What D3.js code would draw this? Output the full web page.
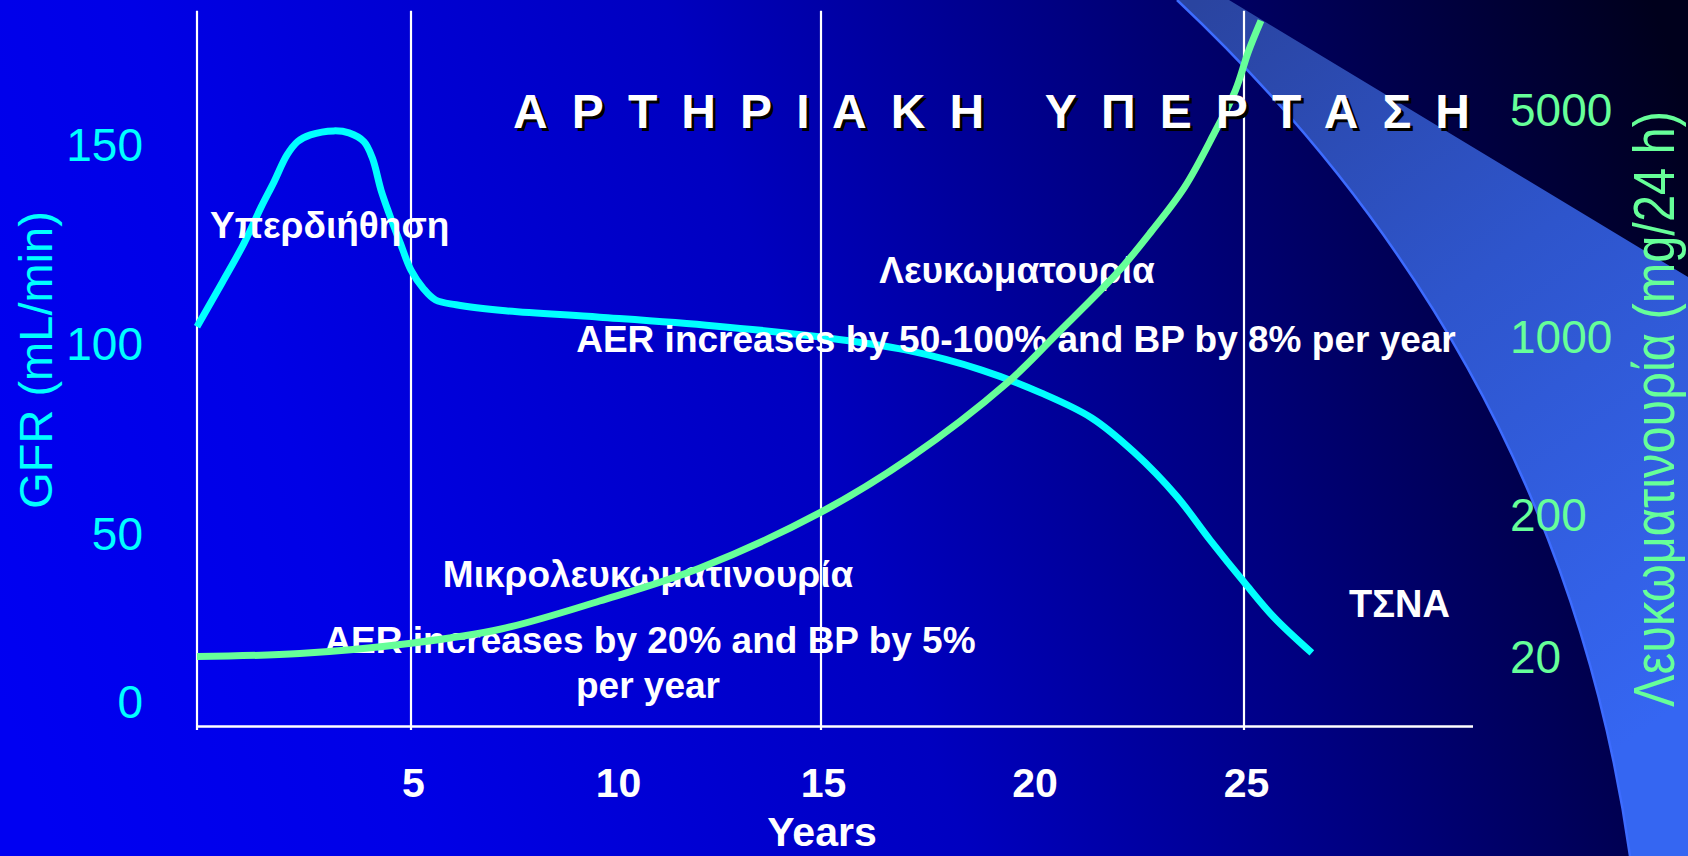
<!DOCTYPE html>
<html>
<head>
<meta charset="utf-8">
<script src="https://cdn.jsdelivr.net/npm/d3@7"></script>
<style>
  html, body { margin: 0; padding: 0; background: #000; overflow: hidden; }
  svg { display: block; }
</style>
</head>
<body>
<svg id="chart" width="1688" height="856"></svg>
<script>
// GFR (mL/min) over the years of diabetic nephropathy
const gfrYears  = [0, 0.6, 1.1, 1.5, 1.8, 2.1, 2.35, 2.65, 3.2, 3.55, 3.9, 4.1, 4.3, 4.5, 4.75, 5.0, 5.3, 5.6, 6.1, 7.3, 9.6, 12.4, 15.0, 17.0, 18.8, 20.2, 21.4, 22.4, 23.4, 24.2, 25.0, 25.7, 26.6];
const gfrValues = [104.6, 115.9, 125.6, 134.7, 141.0, 147.7, 151.1, 152.8, 153.8, 153.3, 151.1, 146.9, 138.9, 132.7, 125.6, 118.8, 114.2, 111.3, 110.1, 108.6, 107.0, 104.8, 102.0, 98.7, 93.4, 87.4, 80.8, 71.8, 60.3, 48.5, 36.0, 25.6, 14.9];

// Albumin excretion (mg/24 h), log axis
const aerYears  = [0, 2.4, 5.0, 7.2, 9.6, 12.05, 15.0, 17.1, 19.4, 20.6, 22.0, 22.8, 23.6, 24.3, 24.8, 25.1, 25.4];
const aerValues = [20.5, 21.5, 25.4, 32.0, 50.4, 86.1, 207, 338, 666, 1036, 1586, 2120, 2920, 4280, 5800, 7600, 9490];

// axis ticks
const yearTicks = [5, 10, 15, 20, 25];
const gridYears = [0, 5, 15, 25];
const gfrTicks  = [0, 50, 100, 150];
const aerTicks  = [20, 200, 1000, 5000];

const W = 1688, H = 856;
const FONT = "'Liberation Sans', Arial, Helvetica, sans-serif";
const CYAN = "#00ffff", GREEN = "#66ff99";

const svg = d3.select("#chart");
const defs = svg.append("defs");

// ---------- scales (hand-drawn slide axes: piecewise through tick positions) ----------
const x  = d3.scaleLinear().domain([0, 5, 15, 25, 30.4]).range([197, 411, 821, 1244, 1473]);
const yL = d3.scaleLinear().domain(gfrTicks).range([703, 535, 345, 146]);
const yR = d3.scaleLog().domain(aerTicks).range([658, 516, 338, 111]);

const axisY = 726.5, topY = 10.7;

// ---------- background ----------
const bg = defs.append("linearGradient").attr("id", "bg")
  .attr("gradientUnits", "userSpaceOnUse")
  .attr("x1", 0).attr("y1", 700).attr("x2", W).attr("y2", 100);
[[0, "#0000f2"], [0.2, "#0000e6"], [0.48, "#0000c0"], [0.69, "#000080"], [0.86, "#000048"], [1, "#00001c"]]
  .forEach(([o, c]) => bg.append("stop").attr("offset", o).attr("stop-color", c));
svg.append("rect").attr("width", W).attr("height", H).attr("fill", "url(#bg)");

// decorative swoosh on the right
const sw = defs.append("linearGradient").attr("id", "swoosh")
  .attr("gradientUnits", "userSpaceOnUse")
  .attr("x1", 1200).attr("y1", 0).attr("x2", 1688).attr("y2", 700);
[[0, "#2a44a0"], [0.45, "#2e55cc"], [1, "#3566f2"]]
  .forEach(([o, c]) => sw.append("stop").attr("offset", o).attr("stop-color", c));

const band = d3.path();
band.moveTo(1177, 0);
band.quadraticCurveTo(1560, 360, 1630, H);
band.lineTo(W, H);
band.lineTo(W, 277);
band.lineTo(1229, 0);
band.closePath();
svg.append("path").attr("d", band.toString()).attr("fill", "url(#swoosh)");

const edge = d3.path();
edge.moveTo(1177, 0);
edge.quadraticCurveTo(1560, 360, 1630, H);
svg.append("path").attr("d", edge.toString()).attr("fill", "none")
  .attr("stroke", "#3d6cff").attr("stroke-width", 2.5);

// ---------- grid & axes ----------
svg.append("g").selectAll("line").data(gridYears).join("line")
  .attr("x1", d => x(d)).attr("x2", d => x(d))
  .attr("y1", topY).attr("y2", axisY + 3.5)
  .attr("stroke", "#ffffff").attr("stroke-width", 2.2);

svg.append("line")
  .attr("x1", x(0)).attr("x2", x(30.4))
  .attr("y1", axisY).attr("y2", axisY)
  .attr("stroke", "#ffffff").attr("stroke-width", 2.6);

const xAxis = svg.append("g").attr("transform", `translate(2,${axisY})`)
  .call(d3.axisBottom(x).tickValues(yearTicks).tickSize(0).tickPadding(0).tickFormat(d3.format("d")));
xAxis.select(".domain").remove();
xAxis.selectAll("text")
  .attr("y", 70.5).attr("dy", null)
  .attr("fill", "#ffffff").style("font-family", FONT)
  .style("font-size", "41px").style("font-weight", "bold");

const yAxisL = svg.append("g").attr("transform", "translate(143,0)")
  .call(d3.axisLeft(yL).tickValues(gfrTicks).tickSize(0).tickPadding(0).tickFormat(d3.format("d")));
yAxisL.select(".domain").remove();
yAxisL.selectAll("text")
  .attr("fill", CYAN).style("font-family", FONT).style("font-size", "46px");

const yAxisR = svg.append("g").attr("transform", "translate(1510,0)")
  .call(d3.axisRight(yR).tickValues(aerTicks).tickSize(0).tickPadding(0).tickFormat(d3.format("d")));
yAxisR.select(".domain").remove();
yAxisR.selectAll("text")
  .attr("fill", GREEN).style("font-family", FONT).style("font-size", "46px");

// axis titles
svg.append("text")
  .attr("transform", "translate(822,846)")
  .attr("text-anchor", "middle")
  .attr("fill", "#ffffff").style("font-family", FONT)
  .style("font-size", "41px").style("font-weight", "bold")
  .text("Years");

svg.append("text")
  .attr("transform", "translate(52,360) rotate(-90)")
  .attr("text-anchor", "middle")
  .attr("fill", CYAN).style("font-family", FONT).style("font-size", "47px")
  .text("GFR (mL/min)");

svg.append("text")
  .attr("transform", "translate(1674,409) rotate(-90) scale(0.855,1)")
  .attr("text-anchor", "middle")
  .attr("fill", GREEN).style("font-family", FONT).style("font-size", "57px")
  .text("Λευκωματινουρία (mg/24 h)");

// ---------- curves ----------
const gfrLine = d3.line().x((d, i) => x(gfrYears[i])).y(d => yL(d)).curve(d3.curveCatmullRom.alpha(0.5));
const aerLine = d3.line().x((d, i) => x(aerYears[i])).y(d => yR(d)).curve(d3.curveCatmullRom.alpha(0.5));

svg.append("path").attr("d", gfrLine(gfrValues))
  .attr("fill", "none").attr("stroke", CYAN).attr("stroke-width", 7);

// ---------- annotations ----------
function label(txt, px, py, anchor, size) {
  return svg.append("text")
    .attr("x", px).attr("y", py).attr("text-anchor", anchor)
    .attr("fill", "#ffffff").style("font-family", FONT)
    .style("font-size", size + "px").style("font-weight", "bold")
    .text(txt);
}
label("Υπερδιήθηση", 210, 238, "start", 37);
label("Λευκωματουρία", 1017, 283, "middle", 37);
label("AER increases by 50-100% and BP by 8% per year", 1016, 352, "middle", 37);
label("Μικρολευκωματινουρία", 648, 587, "middle", 37);
label("AER increases by 20% and BP by 5%", 650, 653, "middle", 37);
label("per year", 648, 698, "middle", 37);
label("ΤΣΝΑ", 1349, 617, "start", 38);

svg.append("path").attr("d", aerLine(aerValues))
  .attr("fill", "none").attr("stroke", GREEN).attr("stroke-width", 7);

// ---------- title with drop shadow ----------
const TITLE = "Α Ρ Τ Η Ρ Ι Α Κ Η   Υ Π Ε Ρ Τ Α Σ Η";
[["#000000", 3], ["#ffffff", 0]].forEach(([col, off]) => {
  svg.append("text")
    .attr("x", 513 + off).attr("y", 128 + off)
    .attr("textLength", 957).attr("lengthAdjust", "spacing")
    .style("white-space", "pre")
    .attr("fill", col).style("font-family", FONT)
    .style("font-size", "48px").style("font-weight", "bold")
    .text(TITLE);
});
</script>
</body>
</html>
